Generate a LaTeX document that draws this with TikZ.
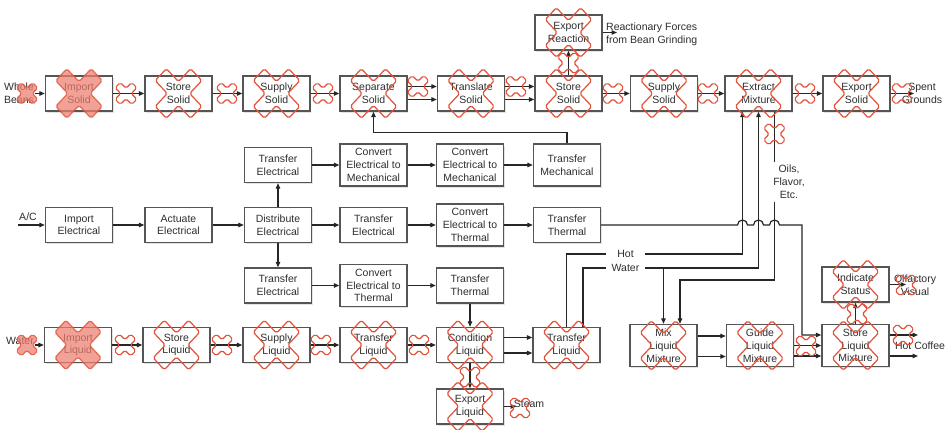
\documentclass[tikz,border=0pt]{standalone}
\usepackage{fontspec}
\setmainfont{Liberation Sans}
\usetikzlibrary{arrows.meta,shadows,calc}
\definecolor{boxline}{HTML}{555555}
\definecolor{inkc}{HTML}{2E2E2E}
\definecolor{linec}{HTML}{262626}
\definecolor{xred}{HTML}{E2513A}
\definecolor{xfill}{HTML}{EE7E70}
\tikzset{
  pics/xcross/.style={code={
    \path[pic actions, rounded corners=1.8pt, rotate=45]
      (0.24,0.24) -- (0.76,0.24) -- (0.76,-0.24) -- (0.24,-0.24) -- (0.24,-0.76) -- (-0.24,-0.76)
      -- (-0.24,-0.24) -- (-0.76,-0.24) -- (-0.76,0.24) -- (-0.24,0.24) -- (-0.24,0.76) -- (0.24,0.76) -- cycle;
  }},
}
\begin{document}
\begin{tikzpicture}[x=1pt,y=-1pt,
  every node/.style={font=\fontsize{10.5}{12.8}\selectfont, text=inkc},
  fn/.style={draw=boxline, line width=1.4pt, fill=white, minimum width=67pt,
    minimum height=35pt, align=center, inner sep=1pt,
    drop shadow={shadow xshift=1.2pt, shadow yshift=-1.6pt, opacity=0.22}},
  fntall/.style={fn, minimum height=42pt},
  lbl/.style={align=center, inner sep=1pt},
  flow/.style={draw=linec, line width=1.2pt, -{Triangle[length=5.5pt,width=4.5pt]}},
  wire/.style={draw=linec, line width=1.2pt},
  bigx/.style={xscale=33, yscale=35, draw=xred, line width=1.2pt},
  smallx/.style={xscale=15.5, yscale=15.5, draw=xred, line width=1.1pt},
  solidx/.style={fill=xfill, fill opacity=0.72, draw opacity=0.8},
]
\fill[white] (0,0) rectangle (951,430);
\useasboundingbox (0,0) rectangle (951,430);

% ---------- solid path (top row) ----------
\node[fn] (is1) at (79,93.5)    {Import\\Solid};
\node[fn] (ss1) at (178.5,93.5) {Store\\Solid};
\node[fn] (sp1) at (276.5,93.5) {Supply\\Solid};
\node[fn] (sep) at (373.5,93.5) {Separate\\Solid};
\node[fn] (tr)  at (471,93.5)   {Translate\\Solid};
\node[fn] (ss2) at (568.5,93.5) {Store\\Solid};
\node[fn] (sp2) at (664,93.5)   {Supply\\Solid};
\node[fn] (ext) at (758.5,93.5) {Extract\\Mixture};
\node[fn] (exs) at (856.5,93.5) {Export\\Solid};
\node[fn] (exr) at (568.5,32.5) {Export\\Reaction};

% ---------- electrical path (middle) ----------
\node[fn]     (te1)  at (278,165)   {Transfer\\Electrical};
\node[fntall] (cem1) at (373.5,165) {Convert\\Electrical to\\Mechanical};
\node[fntall] (cem2) at (470,165)   {Convert\\Electrical to\\Mechanical};
\node[fntall] (tm)   at (567,165)   {Transfer\\Mechanical};
\node[fn]     (ie)   at (79,225)    {Import\\Electrical};
\node[fn]     (ae)   at (178.5,225) {Actuate\\Electrical};
\node[fn]     (de)   at (278,225)   {Distribute\\Electrical};
\node[fn]     (te2)  at (373.5,225) {Transfer\\Electrical};
\node[fntall] (cet1) at (470,225)   {Convert\\Electrical to\\Thermal};
\node[fn]     (tt1)  at (567,225)   {Transfer\\Thermal};
\node[fn]     (te3)  at (278,285.5) {Transfer\\Electrical};
\node[fntall] (cet2) at (373.5,285.5) {Convert\\Electrical to\\Thermal};
\node[fn]     (tt2)  at (470,285.5) {Transfer\\Thermal};

% ---------- liquid path (bottom row) ----------
\node[fn]     (il)  at (78,345)    {Import\\Liquid};
\node[fn]     (sl)  at (176.5,345) {Store\\Liquid};
\node[fn]     (spl) at (276.5,345) {Supply\\Liquid};
\node[fn]     (tl1) at (373.5,345) {Transfer\\Liquid};
\node[fn]     (cl)  at (470,345)   {Condition\\Liquid};
\node[fn]     (tl2) at (566.5,345) {Transfer\\Liquid};
\node[fn]     (el)  at (470,406.5) {Export\\Liquid};
\node[fntall] (mlm) at (663.5,345.5) {Mix\\Liquid\\Mixture};
\node[fntall] (glm) at (760,345.5)   {Guide\\Liquid\\Mixture};
\node[fntall] (slm) at (855.5,345.5) {Store\\Liquid\\Mixture};
\node[fn]     (ist) at (855.5,284.5) {Indicate\\Status};

% ---------- flow labels ----------
\node[lbl] (lbeans) at (19,93.5) {Whole\\Beans};
\node[lbl] (lac)    at (28,217)  {A/C};
\node[lbl] (lwater) at (20,341)  {Water};
\node[lbl, anchor=west, align=left] (lreact) at (605,34) {Reactionary Forces\\from Bean Grinding};
\node[lbl] (lspent) at (922,93)  {Spent\\Grounds};
\node[lbl] (loils)  at (789,182) {Oils,\\Flavor,\\Etc.};
\node[lbl, minimum width=38pt] (lhot) at (625.5,254) {Hot};
\node[lbl, minimum width=38pt] (lwat) at (625.5,268) {Water};
\node[lbl] (lolf)    at (915,285) {Olfactory\\Visual};
\node[lbl] (lcoffee) at (920,346) {Hot Coffee};
\node[lbl] (lsteam)  at (529,404) {Steam};

\coordinate (acin)    at (18,225);
\coordinate (spentin) at (914,93.5);
\coordinate (reactin) at (617,32.5);
\coordinate (steamin) at (516,406.5);
\coordinate (olfin)   at (906,284.5);
\coordinate (cofA)    at (918,335);
\coordinate (cofB)    at (918,356);
\coordinate (oilTop)  at (774.5,162);
\coordinate (oilBot)  at (774.5,202);

% ---------- solid connectors ----------
\draw[flow] (lbeans.east) -- (is1.west);
\draw[flow] (is1) -- (ss1);
\draw[flow] (ss1) -- (sp1);
\draw[flow] (sp1) -- (sep);
\draw[flow] ([yshift=7pt]sep.east) -- ([yshift=7pt]tr.west);
\draw[flow] ([yshift=-6pt]sep.east) -- ([yshift=-6pt]tr.west);
\draw[flow] ([yshift=7pt]tr.east) -- ([yshift=7pt]ss2.west);
\draw[flow] ([yshift=-6pt]tr.east) -- ([yshift=-6pt]ss2.west);
\draw[flow] (ss2) -- (sp2);
\draw[flow] (sp2) -- (ext);
\draw[flow] (ext) -- (exs);
\draw[flow] (exs.east) -- (spentin);
\draw[flow] (ss2) -- (exr);
\draw[flow] (exr.east) -- (reactin);

% ---------- electrical connectors ----------
\draw[flow] (acin) -- (ie.west);
\draw[flow] (ie) -- (ae);
\draw[flow] (ae) -- (de);
\draw[flow] (de) -- (te1);
\draw[flow] (de) -- (te2);
\draw[flow] (de) -- (te3);
\draw[flow] (te1) -- (cem1);
\draw[flow] (cem1) -- (cem2);
\draw[flow] (cem2) -- (tm);
\draw[flow] (tm.north) -- ++(0,-11) -| (sep.south);
\draw[flow] (te2) -- (cet1);
\draw[flow] (cet1) -- (tt1);
\draw[flow] (te3) -- (cet2);
\draw[flow] (cet2) -- (tt2);
\draw[flow] (tt2) -- (cl);
\draw[flow] (tt1.east) -- (737.5,225) arc (180:0:5pt) -- (753.5,225) arc (180:0:5pt)
  -- (769.5,225) arc (180:0:5pt) -- (802,225) -- (802,335) -- (slm.west |- cofA);

% ---------- liquid connectors ----------
\draw[flow] (lwater.east |- il) -- (il.west);
\draw[flow] (il) -- (sl);
\draw[flow] (sl) -- (spl);
\draw[flow] (spl) -- (tl1);
\draw[flow] (tl1) -- (cl);
\draw[flow] ([yshift=7.5pt]cl.east) -- ([yshift=7.5pt]tl2.west);
\draw[flow] ([yshift=-8pt]cl.east) -- ([yshift=-8pt]tl2.west);
\draw[flow] (cl) -- (el);
\draw[flow] (el.east) -- (steamin);
\draw[flow] ([yshift=9.5pt]mlm.east) -- ([yshift=9.5pt]glm.west);
\draw[flow] ([yshift=-11pt]mlm.east) -- ([yshift=-11pt]glm.west);
\draw[flow] (glm.east) -- (slm.west);
\draw[flow] ([yshift=-10.5pt]glm.east) -- ([yshift=-10.5pt]slm.west);
\draw[flow] (slm.east |- cofA) -- (cofA);
\draw[flow] (slm.east |- cofB) -- (cofB);
\draw[flow] (slm) -- (ist);
\draw[flow] (ist.east) -- (olfin);

% ---------- hot water and extract outputs ----------
\draw[wire] (tl2.north) |- (lhot.west);
\draw[flow] (lhot.east) -| ([xshift=-16pt]ext.south);
\draw[wire] ([xshift=16.5pt]tl2.north) |- (lwat.west);
\draw[flow] (lwat.east) -| (ext.south);
\draw[flow] (mlm.north |- lwat.east) -- (mlm.north);
\draw[wire] (ext.south -| oilTop) -- (oilTop);
\draw[flow] (oilBot) -- ++(0,78) -| ([xshift=16.5pt]mlm.north);

% ---------- failure marks on functions ----------
\pic[bigx, solidx] at (is1) {xcross};
\foreach \n in {ss1,sp1,sep,tr,ss2,sp2,ext,exs,exr,sl,spl,tl1,cl,tl2,el,mlm,glm,slm,ist}
  \pic[bigx] at (\n) {xcross};
\pic[bigx, solidx] at (il) {xcross};

% ---------- failure marks on flows ----------
\pic[smallx, solidx] at (27,93.5) {xcross};
\pic[smallx, solidx] at (27,345) {xcross};
\foreach \p in {(126,93.5),(227,93.5),(323,93.5),(418,86.5),(516,86.5),(613,93.5),
  (708,93.5),(805,93.5),(902,93.5),(774.5,134),(568.5,63),
  (125,345),(222,345),(321,345),(419,345),(470,377),(520,408),
  (806,346),(903,335),(857,314),(906,285)}
  \pic[smallx] at \p {xcross};
\end{tikzpicture}
\end{document}
